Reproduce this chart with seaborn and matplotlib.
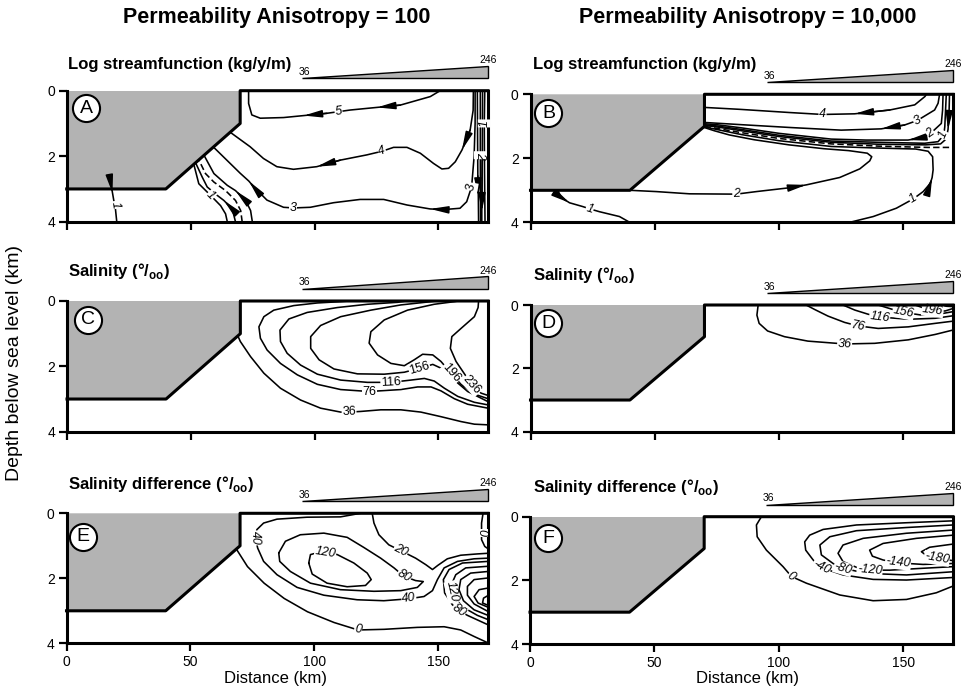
import numpy as np
import pandas as pd
import matplotlib
matplotlib.use("Agg")
import matplotlib.pyplot as plt
import seaborn as sns

# ---- axes, basement and wedge values
DIST_TICKS = [0, 50, 100, 150]
DEPTH_TICKS = [0, 2, 4]
SHELF_X = [0, 70, 70, 40, 0]
SHELF_D = [0, 0, 1, 3, 3]
EDGE_X = [0, 40, 70, 70, 170]
EDGE_D = [3, 3, 1, 0, 0]
WEDGE_X = [95, 170, 170]
WEDGE_D = [-0.38, -0.38, -0.75]
WEDGE_TEXT = ["36", "246"]

HEADERS = ["Permeability Anisotropy = 100", "Permeability Anisotropy = 10,000"]
TITLES = {
    "A": "Log streamfunction (kg/y/m)",
    "B": "Log streamfunction (kg/y/m)",
    "C": "Salinity (°/$_{\\mathbf{oo}}$)",
    "D": "Salinity (°/$_{\\mathbf{oo}}$)",
    "E": "Salinity difference (°/$_{\\mathbf{oo}}$)",
    "F": "Salinity difference (°/$_{\\mathbf{oo}}$)",
}

# ---- A: log streamfunction, anisotropy 100  (km, depth km)
A_PSI5 = [(150.7, 0.0), (146.7, 0.18), (134.6, 0.44), (125.2, 0.51), (114.4, 0.59), (109.7, 0.64),
          (105.0, 0.69), (95.6, 0.76), (87.5, 0.82), (78.1, 0.84), (74.7, 0.74), (73.4, 0.39), (73.4, 0.0)]
A_PSI4 = [(164.1, 0.0), (164.0, 0.6), (162.8, 1.2), (159.5, 1.81), (156.8, 2.17), (154.1, 2.37),
          (151.4, 2.39), (148.0, 2.22), (142.7, 1.91), (137.3, 1.73), (131.9, 1.73), (127.2, 1.85),
          (121.1, 1.96), (110.4, 2.12), (100.9, 2.32), (91.5, 2.40), (84.8, 2.32), (79.4, 2.07),
          (74.0, 1.71), (70.0, 1.49), (66.0, 1.27)]
A_PSI3 = [(164.8, 0.0), (164.8, 1.0), (164.4, 2.0), (163.4, 2.93), (161.4, 3.39), (158.7, 3.59),
          (152.0, 3.63), (146.6, 3.61), (137.3, 3.49), (127.9, 3.32), (118.4, 3.32), (107.7, 3.42),
          (98.3, 3.56), (91.5, 3.58), (87.5, 3.56), (80.8, 3.34), (75.4, 2.93), (73.5, 2.76),
          (70.0, 2.52), (64.6, 2.12), (59.2, 1.72)]
A_EDGE1 = [(165.7, 0.0), (165.8, 1.5), (165.9, 2.6), (166.1, 3.24), (166.2, 4.0)]
A_EDGE2 = [(166.9, 0.0), (166.9, 1.97), (167.0, 4.0)]
A_EDGE3 = [(167.8, 0.0), (167.7, 2.0), (167.5, 3.69), (167.5, 4.0)]
A_EDGE4 = [(168.7, 0.0), (168.5, 1.0), (168.6, 2.5), (168.8, 4.0)]
A_TOE1 = [(74.9, 4.0), (74.2, 3.66), (72.2, 3.35), (68.1, 3.05), (64.8, 2.89), (59.4, 2.53), (55.4, 1.97)]
A_TOE2 = [(70.8, 4.0), (70.2, 3.66), (68.1, 3.35), (64.1, 3.05), (59.4, 2.79), (56.0, 2.53), (53.3, 2.11)]
A_TOE3 = [(68.1, 4.0), (66.8, 3.61), (63.4, 3.35), (60.8, 3.2), (56.7, 2.94), (54.7, 2.64), (52.0, 2.2)]
A_TOE4 = [(64.8, 4.0), (64.1, 3.76), (62.1, 3.51), (58.1, 3.2), (53.3, 2.84), (51.3, 2.25)]
A_BASE1 = [(18.2, 3.0), (18.5, 3.13), (19.0, 3.35), (19.5, 3.49), (20.2, 4.0)]

# ---- B: log streamfunction, anisotropy 10,000
B_PSI4 = [(159.3, 0.0), (158.7, 0.07), (154.6, 0.33), (144.6, 0.49), (130.4, 0.61), (117.5, 0.63),
          (104.3, 0.57), (84.2, 0.47), (70.0, 0.41)]
B_PSI3 = [(164.6, 0.0), (164.0, 0.28), (162.6, 0.49), (155.6, 0.82), (150.5, 0.96), (141.1, 1.08),
          (125.0, 1.12), (105.0, 1.04), (85.0, 0.95), (70.0, 0.88)]
B_PSI2 = [(166.0, 0.0), (165.8, 0.5), (165.3, 0.91), (161.0, 1.22), (157.3, 1.36), (151.9, 1.43),
          (135.0, 1.43), (121.0, 1.40), (100.0, 1.22), (85.0, 1.05), (75.0, 0.95), (70.0, 0.92)]
B_PSI1 = [(167.3, 0.0), (167.0, 0.5), (166.7, 1.01), (166.3, 1.27), (164.0, 1.48), (158.6, 1.53),
          (140.0, 1.50), (121.0, 1.46), (100.0, 1.28), (85.0, 1.10), (75.0, 0.99), (70.0, 0.95)]
B_PSIX = [(168.6, 0.0), (168.4, 0.6), (168.0, 1.1), (167.2, 1.4), (165.0, 1.55), (159.0, 1.58),
          (140.0, 1.56), (121.0, 1.5), (100.0, 1.32), (85.0, 1.14), (75.0, 1.02), (70.0, 0.97)]
B_ZERO = [(70.0, 1.0), (85.0, 1.2), (100.0, 1.38), (121.0, 1.55), (140.0, 1.62), (160.0, 1.66), (170.0, 1.66)]
B_LOW1A = [(11.0, 3.0), (12.3, 3.22), (15.7, 3.39), (21.1, 3.51), (23.8, 3.58), (27.8, 3.67),
           (35.8, 3.82), (39.9, 4.0)]
B_LOW1B = [(128.5, 4.0), (137.9, 3.82), (147.2, 3.56), (154.0, 3.27), (158.0, 3.04), (160.9, 2.78),
           (161.6, 2.6), (162.0, 2.36), (161.8, 1.95), (160.0, 1.78), (155.0, 1.71), (140.0, 1.68),
           (121.0, 1.63), (100.0, 1.45), (85.0, 1.26), (75.0, 1.1), (70.0, 1.02)]
B_LOW2 = [(40.0, 3.0), (50.6, 3.04), (64.0, 3.11), (82.8, 3.12), (90.9, 3.04), (104.3, 2.92),
          (111.0, 2.83), (124.4, 2.6), (132.5, 2.33), (136.5, 2.08), (137.3, 1.95), (135.5, 1.84),
          (128.0, 1.76), (118.0, 1.7), (104.0, 1.58), (90.0, 1.42), (80.0, 1.27), (74.0, 1.14), (70.0, 1.04)]

# ---- C: salinity, anisotropy 100
C_S36 = [(69.0, 1.07), (70.0, 1.24), (74.1, 1.70), (79.5, 2.21), (86.2, 2.67), (94.3, 3.03),
         (102.4, 3.28), (110.5, 3.40), (113.9, 3.40), (118.6, 3.38), (126.7, 3.33), (134.8, 3.33),
         (142.9, 3.40), (151.0, 3.54), (159.1, 3.69), (164.5, 3.77), (170.0, 3.79)]
C_S76 = [(114.0, 0.0), (110.5, 0.02), (101.1, 0.06), (91.6, 0.14), (83.5, 0.28), (79.5, 0.48),
         (77.5, 0.79), (78.1, 1.14), (80.8, 1.50), (86.2, 1.91), (93.0, 2.26), (101.1, 2.55),
         (110.5, 2.71), (122.0, 2.77), (134.8, 2.71), (141.6, 2.63), (147.0, 2.63), (151.0, 2.75),
         (156.4, 2.99), (161.8, 3.16), (170.0, 3.28)]
C_S116 = [(137.0, 0.0), (133.5, 0.04), (121.3, 0.10), (109.2, 0.20), (97.0, 0.35), (89.6, 0.55),
          (86.0, 0.89), (86.2, 1.24), (88.9, 1.60), (94.3, 1.96), (101.1, 2.24), (110.5, 2.42),
          (121.3, 2.49), (130.8, 2.49), (138.9, 2.42), (144.3, 2.37), (148.3, 2.45), (152.4, 2.67),
          (157.8, 2.92), (164.5, 3.10), (170.0, 3.18)]
C_S156 = [(149.0, 0.0), (147.0, 0.02), (134.8, 0.12), (122.7, 0.28), (110.5, 0.48), (102.4, 0.75),
          (98.4, 1.09), (98.4, 1.45), (101.8, 1.80), (107.8, 2.08), (117.3, 2.23), (128.1, 2.24),
          (136.2, 2.18), (142.3, 2.06), (147.7, 1.94), (151.7, 2.08), (156.4, 2.42), (161.8, 2.77),
          (170.0, 3.08)]
C_S196 = [(158.0, 0.0), (156.4, 0.02), (148.3, 0.10), (137.5, 0.28), (128.1, 0.58), (122.7, 0.94),
          (122.0, 1.29), (125.4, 1.65), (130.8, 1.91), (136.2, 1.98), (140.2, 1.80), (143.6, 1.63),
          (147.7, 1.65), (151.0, 1.85), (155.1, 2.21), (159.1, 2.55), (164.5, 2.85), (170.0, 2.99)]
C_S236 = [(166.2, 0.0), (166.0, 0.2), (164.5, 0.48), (159.1, 0.84), (155.4, 1.09), (154.8, 1.45),
          (157.1, 1.85), (161.2, 2.31), (163.5, 2.57), (167.2, 2.82), (170.0, 2.89)]

# ---- D: salinity, anisotropy 10,000
D_S36 = [(91.6, 0.0), (91.1, 0.32), (92.0, 0.58), (95.4, 0.82), (102.2, 1.0), (111.6, 1.14),
         (126.4, 1.23), (138.5, 1.21), (152.0, 1.1), (162.8, 0.93), (170.0, 0.79)]
D_S76 = [(110.9, 0.0), (114.3, 0.14), (119.7, 0.35), (126.4, 0.55), (131.8, 0.66), (139.9, 0.74),
         (152.0, 0.69), (162.8, 0.58), (170.0, 0.51)]
D_S116 = [(125.7, 0.0), (130.5, 0.16), (135.8, 0.29), (140.5, 0.38), (152.0, 0.45), (162.8, 0.42),
          (170.0, 0.34)]
D_S156 = [(139.9, 0.0), (145.3, 0.13), (150.0, 0.23), (157.4, 0.32), (164.2, 0.29), (170.0, 0.21)]
D_S196 = [(154.7, 0.0), (158.8, 0.11), (161.8, 0.17), (166.8, 0.19), (170.0, 0.11)]
D_S236 = [(164.8, 0.0), (167.5, 0.04), (170.0, 0.05)]

# ---- E: salinity difference, anisotropy 100
E_D0 = [(68.5, 1.1), (73.0, 1.64), (79.7, 2.15), (87.8, 2.62), (97.2, 3.03), (107.9, 3.36),
        (117.6, 3.59), (128.1, 3.57), (141.5, 3.51), (152.3, 3.49), (159.0, 3.59), (164.4, 3.79),
        (169.8, 3.98)]
E_D0R = [(168.0, 0.0), (167.4, 0.30), (167.4, 0.60), (167.4, 0.81), (168.7, 1.02), (170.0, 1.09)]
E_D20 = [(123.3, 0.0), (124.0, 0.30), (126.0, 0.66), (130.0, 0.97), (134.8, 1.15), (140.8, 1.38),
         (144.9, 1.58), (147.6, 1.73), (149.8, 1.60), (153.6, 1.40), (159.0, 1.29), (165.7, 1.25),
         (170.0, 1.23)]
E_D40 = [(118.6, 0.0), (110.5, 0.11), (97.0, 0.12), (84.9, 0.18), (79.5, 0.30), (76.8, 0.50),
         (76.2, 0.76), (77.1, 1.07), (79.5, 1.48), (84.9, 1.89), (93.0, 2.28), (103.8, 2.52),
         (117.2, 2.66), (128.0, 2.69), (138.1, 2.63), (144.2, 2.56), (147.6, 2.38), (149.6, 2.04),
         (152.3, 1.68), (157.7, 1.48), (164.4, 1.40), (170.0, 1.38)]
E_D80 = [(85.6, 1.22), (88.3, 0.86), (94.3, 0.66), (103.8, 0.61), (113.2, 0.74), (119.9, 1.05),
         (126.7, 1.38), (132.1, 1.68), (136.1, 1.94), (140.8, 2.07), (143.9, 2.1), (141.5, 2.28),
         (134.8, 2.38), (124.0, 2.40), (110.5, 2.35), (98.4, 2.15), (90.3, 1.79), (86.0, 1.48),
         (85.6, 1.22)]
E_D120 = [(97.7, 1.53), (98.4, 1.27), (102.4, 1.19), (104.4, 1.2), (109.2, 1.27), (115.9, 1.53),
          (121.3, 1.84), (122.9, 2.04), (120.6, 2.22), (113.2, 2.26), (105.1, 2.15), (99.1, 1.87),
          (97.7, 1.53)]
E_R1 = [(170.0, 1.48), (159.7, 1.53), (154.3, 1.73), (152.0, 2.04), (152.5, 2.45), (155.6, 2.81),
        (158.3, 2.99), (161.7, 3.14), (170.0, 3.43)]
E_R2 = [(170.0, 1.63), (161.0, 1.68), (157.0, 1.89), (155.2, 2.2), (155.6, 2.42), (156.3, 2.56),
        (159.7, 2.88), (165.7, 3.14), (170.0, 3.27)]
E_R3 = [(170.0, 1.79), (163.0, 1.84), (159.0, 2.04), (158.3, 2.35), (160.1, 2.69), (164.4, 2.97),
        (170.0, 3.14)]
E_R4 = [(170.0, 1.99), (164.4, 2.04), (161.7, 2.25), (161.7, 2.52), (164.4, 2.79), (170.0, 3.02)]
E_R5 = [(170.0, 2.3), (166.4, 2.35), (164.4, 2.56), (166.0, 2.76), (170.0, 2.89)]
E_R6 = [(170.0, 2.53), (168.2, 2.61), (167.8, 2.76), (170.0, 2.83)]

# ---- F: salinity difference, anisotropy 10,000
F_D0 = [(93.0, 0.0), (91.0, 0.26), (91.3, 0.63), (95.0, 1.05), (101.7, 1.57), (105.1, 1.88),
        (111.1, 2.09), (124.5, 2.46), (137.9, 2.64), (151.3, 2.6), (163.3, 2.39), (170.0, 2.18)]
F_D40 = [(170.0, 0.13), (151.3, 0.19), (131.2, 0.26), (117.8, 0.40), (112.4, 0.58), (110.4, 0.79),
         (110.8, 1.05), (113.8, 1.36), (117.1, 1.6), (125.8, 1.83), (137.9, 1.97), (151.3, 1.99),
         (170.0, 1.91)]
F_D80 = [(170.0, 0.26), (151.3, 0.34), (131.2, 0.44), (120.5, 0.63), (116.5, 0.89), (117.1, 1.2),
         (121.8, 1.47), (125.8, 1.62), (135.2, 1.78), (151.3, 1.83), (170.0, 1.73)]
F_D120 = [(170.0, 0.42), (151.3, 0.52), (133.9, 0.68), (125.8, 0.89), (123.8, 1.15), (125.8, 1.41),
          (131.2, 1.59), (136.5, 1.68), (144.6, 1.68), (158.0, 1.62), (170.0, 1.57)]
F_D140 = [(170.0, 0.58), (155.3, 0.68), (141.9, 0.84), (136.5, 1.05), (137.6, 1.24), (141.9, 1.36),
          (147.9, 1.45), (158.0, 1.5), (170.0, 1.47)]
F_D180 = [(170.0, 0.86), (160.6, 0.96), (157.3, 1.10), (160.0, 1.26), (163.5, 1.31), (166.0, 1.34),
          (170.0, 1.38)]

# line, label text, label vertices, arrow-head vertices, dashed
PANEL_LINES = {
    "A": [(A_PSI5, "5", [5], [3, 7], False), (A_PSI4, "4", [11], [3, 14], False),
          (A_PSI3, "3", [3, 13], [7, 17], False), (A_EDGE1, "", [], [3], False),
          (A_EDGE2, "2", [1], [], False), (A_EDGE3, "", [], [2], False),
          (A_EDGE4, "1", [1], [], False), (A_TOE1, "", [], [3], False),
          (A_TOE2, "", [], [], True), (A_TOE3, "", [], [2], False),
          (A_TOE4, "1", [3], [], False), (A_BASE1, "1", [3], [1], False)],
    "B": [(B_PSI4, "4", [5], [4], False), (B_PSI3, "3", [3], [5], False),
          (B_PSI2, "2", [3], [5], False), (B_PSI1, "1", [3], [], False),
          (B_PSIX, "", [], [2], False), (B_ZERO, "", [], [], True),
          (B_LOW1A, "1", [4], [2], False), (B_LOW1B, "1", [3], [6], False),
          (B_LOW2, "2", [3], [6], False)],
    "C": [(C_S36, "36", [8], [], False), (C_S76, "76", [13], [], False),
          (C_S116, "116", [13], [], False), (C_S156, "156", [13], [], False),
          (C_S196, "196", [14], [], False), (C_S236, "236", [8], [], False)],
    "D": [(D_S36, "36", [6], [], False), (D_S76, "76", [4], [], False),
          (D_S116, "116", [3], [], False), (D_S156, "156", [2], [], False),
          (D_S196, "196", [2], [], False), (D_S236, "", [], [], False)],
    "E": [(E_D0, "0", [6], [], False), (E_D0R, "0", [2], [], False),
          (E_D20, "20", [4], [], False), (E_D40, "40", [6, 14], [], False),
          (E_D80, "80", [8], [], False), (E_D120, "120", [3], [], False),
          (E_R1, "80", [6], [], False), (E_R2, "120", [4], [], False),
          (E_R3, "", [], [], False), (E_R4, "", [], [], False),
          (E_R5, "", [], [], False), (E_R6, "", [], [], False)],
    "F": [(F_D0, "0", [5], [], False), (F_D40, "-40", [8], [], False),
          (F_D80, "-80", [7], [], False), (F_D120, "-120", [7], [], False),
          (F_D140, "-140", [6], [], False), (F_D180, "-180", [4], [], False)],
}

# ---- layout (figure pixels: left, top, right, bottom of each panel)
W, H = 965, 694
BOXES = {
    "A": (66.7, 90.7, 488.0, 221.7), "B": (530.5, 94.3, 953.0, 222.3),
    "C": (67.0, 301.0, 488.0, 431.7), "D": (530.5, 305.0, 953.0, 431.7),
    "E": (66.5, 513.3, 488.0, 643.3), "F": (530.0, 516.7, 953.0, 644.0),
}
TITLE_XY = {"A": (68, 65), "B": (533, 65), "C": (68, 271), "D": (533, 275),
            "E": (68, 484), "F": (533, 487)}
BADGE_XY = {"A": (7.8, 0.53), "B": (7.2, 0.59), "C": (8.3, 0.58), "D": (7.2, 0.58),
            "E": (6.7, 0.72), "F": (7.4, 0.68)}
ITALIC = {"A": "italic", "B": "italic", "C": "normal", "D": "italic", "E": "italic", "F": "italic"}

sns.set_theme(style="ticks")
plt.rcParams["font.family"] = ["Liberation Sans", "DejaVu Sans"]
plt.rcParams["mathtext.fontset"] = "custom"
plt.rcParams["mathtext.rm"] = "Liberation Sans"
plt.rcParams["mathtext.bf"] = "Liberation Sans:bold"
for key in ("text.color", "axes.labelcolor", "xtick.color", "ytick.color", "axes.edgecolor"):
    plt.rcParams[key] = "black"

fig = plt.figure(figsize=(W / 100, H / 100), dpi=100)
fig.patch.set_facecolor("white")


def label_angle(ax, pts, i):
    a = ax.transData.transform(pts[max(i - 1, 0)])
    b = ax.transData.transform(pts[min(i + 1, len(pts) - 1)])
    ang = np.degrees(np.arctan2(b[1] - a[1], b[0] - a[0]))
    if ang > 90:
        ang -= 180
    if ang < -90:
        ang += 180
    return ang


for name, (l, t, r, b) in BOXES.items():
    ax = fig.add_axes([l / W, 1 - b / H, (r - l) / W, (b - t) / H])
    ax.set_xlim(0, 170)
    ax.set_ylim(4, 0)
    ax.set_facecolor("white")

    ax.fill(SHELF_X, SHELF_D, color="#b3b3b3", lw=0, zorder=1)

    for pts, lab, lab_at, arrows, dashed in PANEL_LINES[name]:
        df = pd.DataFrame(pts, columns=["km", "depth"])
        sns.lineplot(data=df, x="km", y="depth", sort=False, estimator=None, color="black",
                     lw=1.15, linestyle=(0, (4, 2)) if dashed else "-", ax=ax, zorder=3)
        for i in arrows:
            ax.annotate("", xy=pts[i], xytext=pts[i - 1], zorder=4,
                        arrowprops=dict(arrowstyle="-|>,head_length=1.2,head_width=0.24",
                                        color="black", lw=1.1, shrinkA=0, shrinkB=0,
                                        mutation_scale=9))
        for i in lab_at:
            ax.text(pts[i][0], pts[i][1], lab, fontsize=9, style=ITALIC[name],
                    rotation=label_angle(ax, pts, i), rotation_mode="anchor",
                    ha="center", va="center", zorder=5,
                    bbox=dict(fc="white", ec="none", pad=0.4))

    ax.plot(EDGE_X, EDGE_D, color="black", lw=2.2, solid_capstyle="projecting",
            clip_on=False, zorder=6)

    # salinity wedge above each panel
    ax.fill(WEDGE_X, WEDGE_D, facecolor="#b3b3b3", edgecolor="black", lw=1.0, clip_on=False, zorder=6)
    ax.text(WEDGE_X[0] + 1, WEDGE_D[0] - 0.04, WEDGE_TEXT[0], fontsize=7.5, ha="center", va="bottom")
    ax.text(WEDGE_X[1], WEDGE_D[2] - 0.03, WEDGE_TEXT[1], fontsize=7.5, ha="center", va="bottom")

    # panel letter
    bx, bd = BADGE_XY[name]
    ax.plot([bx], [bd], marker="o", ms=19.5, mfc="white", mec="black", mew=1.5, zorder=7, clip_on=False)
    ax.text(bx, bd, name, fontsize=14, ha="center", va="center", zorder=8)

    ax.set_xticks(DIST_TICKS)
    ax.set_yticks(DEPTH_TICKS)
    ax.set_xlabel("")
    ax.set_ylabel("")
    ax.tick_params(direction="out", length=6, width=1.6, labelsize=10, pad=2.5,
                   color="black", labelcolor="black")
    if name not in ("E", "F"):
        ax.tick_params(labelbottom=False)
    ax.spines["top"].set_visible(False)
    for s in ("left", "right", "bottom"):
        ax.spines[s].set_linewidth(2.2)
        ax.spines[s].set_color("black")

    tx, ty = TITLE_XY[name]
    fig.text(tx / W, 1 - ty / H, TITLES[name], fontsize=12, weight="bold", ha="left", va="center")

fig.text(277 / W, 1 - 17 / H, HEADERS[0], fontsize=15.5, weight="bold", ha="center", va="center")
fig.text(748 / W, 1 - 17 / H, HEADERS[1], fontsize=15.5, weight="bold", ha="center", va="center")
fig.text(15 / W, 1 - 363 / H, "Depth below sea level (km)", fontsize=14, rotation=90,
         ha="center", va="center")
fig.text(276 / W, 1 - 679 / H, "Distance (km)", fontsize=12, ha="center", va="center")
fig.text(747 / W, 1 - 679 / H, "Distance (km)", fontsize=12, ha="center", va="center")

fig.savefig("out.png", dpi=100, facecolor="white")
